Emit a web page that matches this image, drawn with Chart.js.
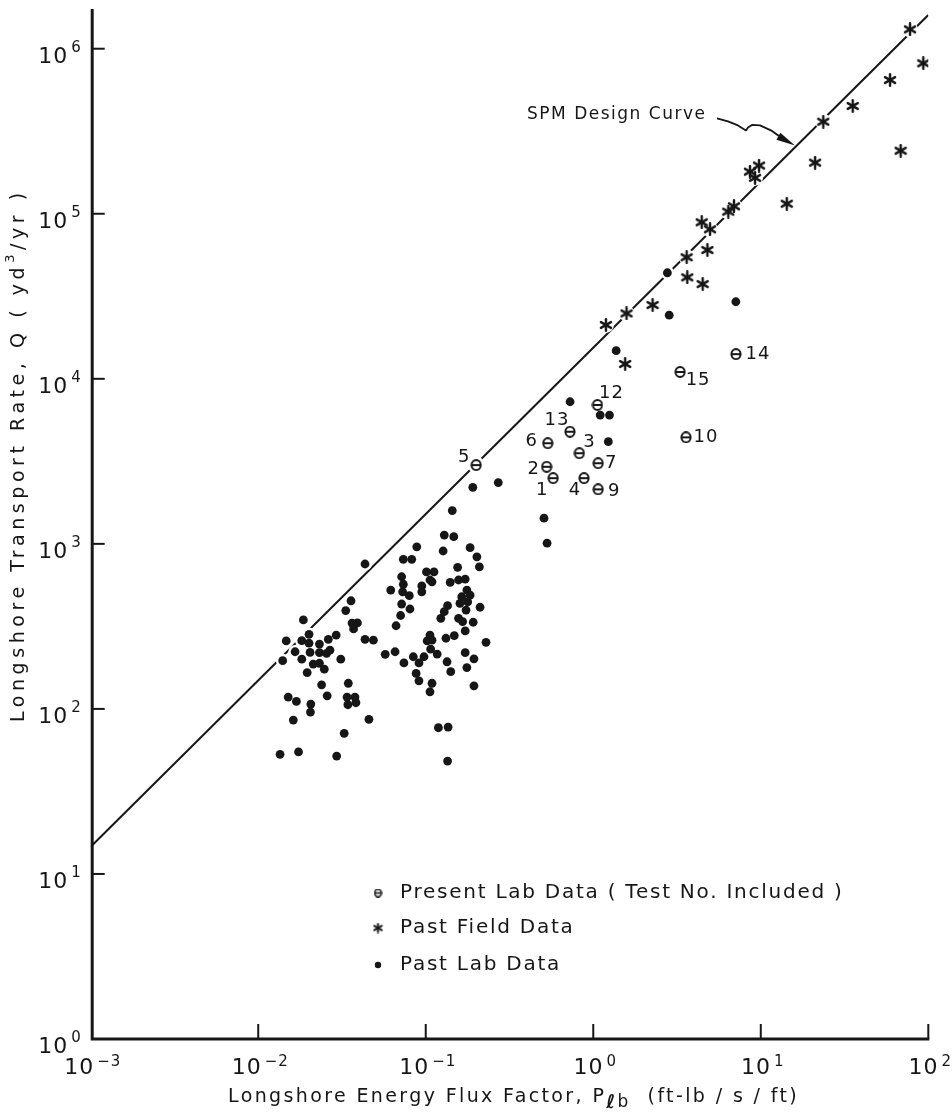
<!DOCTYPE html>
<html>
<head>
<meta charset="utf-8">
<script src="https://cdn.jsdelivr.net/npm/chart.js@4.4.0/dist/chart.umd.min.js"></script>
<style>
  html, body { margin: 0; padding: 0; background: #fff; }
  canvas { display: block; }
</style>
</head>
<body>
<canvas id="chart" width="952" height="1112"></canvas>
<script>
// ---- tick decades -------------------------------------------------------
const xTickExponents = [-3, -2, -1, 0, 1, 2];
const yTickExponents = [0, 1, 2, 3, 4, 5, 6];

// ---- present lab data (test number, P_lb, Q) ----------------------------
const presentLabTests = [5, 6, 13, 12, 3, 2, 1, 7, 4, 9, 15, 10, 14];
const presentLabP = [0.200, 0.535, 0.726, 1.06, 0.826, 0.527, 0.576, 1.07, 0.881, 1.07, 3.30, 3.58, 7.11];
const presentLabQ = [3000, 4070, 4780, 6940, 3540, 2930, 2500, 3080, 2500, 2140, 11000, 4420, 14100];

// ---- past field data ----------------------------------------------------
const pastFieldP = [77.8, 93.3, 59.1, 35.4, 23.6, 68.4, 21.1, 8.62, 9.76, 9.24, 14.3, 6.40,
                    6.92, 4.44, 4.98, 4.80, 3.61, 3.64, 4.50, 2.26, 1.58, 1.19, 1.55];
const pastFieldQ = [1.31e6, 8.16e5, 6.46e5, 4.50e5, 3.61e5, 2.41e5, 2.04e5, 1.80e5, 1.96e5, 1.65e5, 1.15e5, 1.03e5,
                    1.11e5, 8.88e4, 8.05e4, 6.03e4, 5.45e4, 4.12e4, 3.75e4, 2.80e4, 2.49e4, 2.12e4, 1.23e4];

// ---- past lab data ------------------------------------------------------
const pastLabP = [
  0.0186, 0.0147, 0.0201, 0.0182, 0.0201, 0.0232, 0.0262, 0.0292, 0.0166, 0.0204,
  0.0232, 0.0268, 0.0256, 0.0140, 0.0182, 0.0213, 0.0232, 0.0248, 0.0196, 0.0239,
  0.0258, 0.0151, 0.0169, 0.0206, 0.0205, 0.0162, 0.0135, 0.0174, 0.0294, 0.0311,
  0.0326, 0.0358, 0.0333, 0.0363, 0.0391, 0.0371, 0.0434, 0.0487, 0.0345, 0.0339,
  0.0378, 0.0343, 0.0383, 0.0458, 0.0434, 0.0884, 0.0735, 0.0825, 0.129, 0.147,
  0.127, 0.184, 0.202, 0.155, 0.209, 0.0718, 0.101, 0.112, 0.106, 0.140,
  0.157, 0.172, 0.0618, 0.0735, 0.0947, 0.109, 0.0728, 0.0798, 0.0947, 0.176,
  0.164, 0.184, 0.160, 0.178, 0.174, 0.211, 0.0718, 0.0805, 0.135, 0.129,
  0.123, 0.0708, 0.0665, 0.157, 0.166, 0.192, 0.172, 0.106, 0.109, 0.102,
  0.132, 0.148, 0.107, 0.117, 0.229, 0.0573, 0.0656, 0.0741, 0.0843, 0.0911,
  0.0976, 0.134, 0.141, 0.172, 0.194, 0.176, 0.0876, 0.0911, 0.109, 0.106,
  0.194, 0.119, 0.136, 0.135, 0.191, 0.271, 0.144, 0.508, 0.530, 0.727,
  1.10, 1.25, 1.23, 1.37, 2.77, 2.84, 7.10
];
const pastLabQ = [
  346, 258, 283, 259, 250, 247, 264, 280, 222, 220,
  219, 227, 217, 196, 200, 187, 189, 174, 166, 140,
  120, 118, 111, 107, 95.7, 85.6, 53.1, 54.9, 51.8, 200,
  71.1, 452, 394, 331, 332, 305, 264, 261, 143, 118,
  118, 106, 109, 86.5, 755, 960, 806, 806, 1130, 1105,
  905, 948, 835, 721, 726, 632, 676, 676, 604, 584,
  604, 612, 525, 569, 556, 589, 512, 485, 512, 525,
  478, 489, 436, 445, 397, 413, 432, 403, 422, 388,
  354, 368, 319, 354, 338, 335, 297, 280, 261, 258,
  268, 278, 230, 215, 253, 214, 222, 190, 207, 190,
  207, 193, 168, 219, 201, 178, 164, 148, 143, 127,
  138, 76.9, 77.6, 48.3, 2200, 2350, 1590, 1430, 1010, 7260,
  6030, 6030, 4160, 14800, 43900, 24300, 29300
];

// ---- SPM design curve end points ----------------------------------------
const designCurveP = [0.001, 100];
const designCurveQ = [14.6, 1.6e6];

// ---- look ---------------------------------------------------------------
const INK = '#161616';
const FONT = '"DejaVu Sans", "Liberation Sans", sans-serif';

function thetaMarker(size, width) {
  const c = document.createElement('canvas');
  c.width = c.height = size;
  const g = c.getContext('2d');
  const r = size / 2;
  g.strokeStyle = INK;
  g.fillStyle = '#fff';
  g.lineWidth = width;
  g.beginPath();
  g.ellipse(r, r, r - width / 2 - 0.4, r - width / 2, 0, 0, Math.PI * 2);
  g.fill();
  g.stroke();
  g.beginPath();
  g.moveTo(1.5, r);
  g.lineTo(size - 1.5, r);
  g.stroke();
  return c;
}

function starMarker(size, width) {
  const c = document.createElement('canvas');
  c.width = c.height = size;
  const g = c.getContext('2d');
  const r = size / 2, arm = r - 1.2;
  g.strokeStyle = INK;
  g.lineWidth = width;
  g.lineCap = 'round';
  for (let k = 0; k < 3; k++) {
    const a = Math.PI / 2 + k * Math.PI / 3;
    g.beginPath();
    g.moveTo(r - arm * Math.cos(a), r - arm * Math.sin(a));
    g.lineTo(r + arm * Math.cos(a), r + arm * Math.sin(a));
    g.stroke();
  }
  return c;
}

const thetaImg = thetaMarker(12, 2);
const starImg = starMarker(14, 2.4);
const thetaLegend = thetaMarker(9, 1.6);
const starLegend = starMarker(11, 1.9);

const pairs = (xs, ys) => xs.map((x, i) => ({ x, y: ys[i] }));

// label placement of the test numbers around their symbols (dx, dy)
const testLabelPlacement = {
  5: [-12, -8], 6: [-16, -2], 13: [-13, -11], 12: [14, -12], 3: [10, -11],
  2: [-13, 3], 1: [-11, 12], 7: [13, 0], 4: [-9, 12], 9: [16, 2],
  15: [18, 8], 10: [20, 0], 14: [22, 0]
};

function setSpacing(ctx, px) {
  ctx.letterSpacing = px.toFixed(2) + 'px';
}

// draws consecutive text runs so the whole string spans `width`
function drawRuns(ctx, runs, x, y, width) {
  let natural = 0, count = 0;
  ctx.letterSpacing = '0px';
  runs.forEach(r => {
    ctx.font = r.font;
    natural += ctx.measureText(r.text).width;
    count += [...r.text].length;
  });
  const sp = width ? (width - natural) / (count - 1) : 0;
  let cx = x;
  runs.forEach(r => {
    ctx.font = r.font;
    setSpacing(ctx, sp);
    ctx.fillText(r.text, cx, y + (r.dy || 0));
    cx += ctx.measureText(r.text).width;
  });
  ctx.letterSpacing = '0px';
}

function powerWidth(ctx, exp) {
  const sup = exp < 0 ? '\u2212' + (-exp) : String(exp);
  ctx.letterSpacing = '1px';
  ctx.font = `22px ${FONT}`;
  const wb = ctx.measureText('10').width;
  ctx.font = `15px ${FONT}`;
  const ws = ctx.measureText(sup).width;
  return { sup, wb, ws, gap: 3 };
}

function drawPower(ctx, exp, x, y, supRise) {
  const m = powerWidth(ctx, exp);
  ctx.textAlign = 'left';
  ctx.textBaseline = 'alphabetic';
  ctx.letterSpacing = '1px';
  ctx.font = `22px ${FONT}`;
  ctx.fillText('10', x, y);
  ctx.font = `15px ${FONT}`;
  ctx.fillText(m.sup, x + m.wb + m.gap, y - supRise);
  ctx.letterSpacing = '0px';
}

const decor = {
  id: 'decor',
  afterDatasetDraw(chart, args) {
    if (chart.data.datasets[args.index].type !== 'line') return;
    // white clearance so the design curve breaks around symbols it meets
    const ctx = chart.ctx;
    ctx.save();
    ctx.fillStyle = '#fff';
    [[0, 8.5], [1, 8], [2, 6.8]].forEach(([di, r]) => {
      chart.getDatasetMeta(di).data.forEach(pt => {
        ctx.beginPath();
        ctx.arc(pt.x, pt.y, r, 0, Math.PI * 2);
        ctx.fill();
      });
    });
    ctx.restore();
  },
  afterDraw(chart) {
    const ctx = chart.ctx;
    const { left: L, right: R, top: T, bottom: B } = chart.chartArea;
    const xs = chart.scales.x, ys = chart.scales.y;
    ctx.save();
    ctx.fillStyle = INK;
    ctx.strokeStyle = INK;

    // axes
    ctx.lineWidth = 3;
    ctx.lineCap = 'butt';
    ctx.beginPath();
    ctx.moveTo(L + 1.5, T);
    ctx.lineTo(L + 1.5, B);
    ctx.lineTo(R + 1, B);
    ctx.stroke();

    // inward ticks
    ctx.lineWidth = 2;
    xTickExponents.forEach(e => {
      if (e === xTickExponents[0]) return;
      const px = xs.getPixelForValue(10 ** e);
      ctx.beginPath();
      ctx.moveTo(px, B);
      ctx.lineTo(px, B - 15);
      ctx.stroke();
    });
    yTickExponents.forEach(e => {
      if (e === yTickExponents[0]) return;
      const py = ys.getPixelForValue(10 ** e);
      ctx.beginPath();
      ctx.moveTo(L + 1.5, py);
      ctx.lineTo(L + 14, py);
      ctx.stroke();
    });

    // tick labels
    yTickExponents.forEach(e => {
      const py = ys.getPixelForValue(10 ** e);
      const m = powerWidth(ctx, e);
      const w = m.wb + m.gap + m.ws;
      drawPower(ctx, e, L - 9 - w, py + 14, 11);
    });
    xTickExponents.forEach(e => {
      const px = xs.getPixelForValue(10 ** e);
      const m = powerWidth(ctx, e);
      const w = m.wb + m.gap + m.ws;
      drawPower(ctx, e, px - w / 2 + 2, B + 35, 8);
    });

    // axis titles
    ctx.textAlign = 'left';
    ctx.textBaseline = 'middle';
    drawRuns(ctx, [
      { text: 'Longshore Energy Flux Factor, P', font: `19px ${FONT}` },
      { text: '\u2113', font: `italic bold 19px ${FONT}`, dy: 6 },
      { text: 'b', font: `17px ${FONT}`, dy: 6 },
      { text: '  (ft-lb / s / ft)', font: `19px ${FONT}` }
    ], 228, 1097, 569);

    ctx.save();
    ctx.translate(19, 722);
    ctx.rotate(-Math.PI / 2);
    drawRuns(ctx, [
      { text: 'Longshore Transport Rate, Q ( yd', font: `19px ${FONT}` },
      { text: '3', font: `13px ${FONT}`, dy: -8 },
      { text: '/yr )', font: `19px ${FONT}` }
    ], 0, 0, 529);
    ctx.restore();

    // test numbers beside the present lab symbols
    ctx.font = `18px ${FONT}`;
    ctx.textBaseline = 'middle';
    ctx.textAlign = 'center';
    ctx.letterSpacing = '1px';
    chart.getDatasetMeta(0).data.forEach((pt, i) => {
      const n = presentLabTests[i];
      const [dx, dy] = testLabelPlacement[n];
      ctx.fillText(String(n), pt.x + dx, pt.y + dy);
    });
    ctx.letterSpacing = '0px';

    // SPM design curve annotation with its arrow
    const line = chart.getDatasetMeta(3).data;
    const tipX = xs.getPixelForValue(16);
    const t = (tipX - line[0].x) / (line[1].x - line[0].x);
    const tipY = line[0].y + t * (line[1].y - line[0].y) - 2;
    ctx.textAlign = 'left';
    ctx.textBaseline = 'middle';
    drawRuns(ctx, [{ text: 'SPM Design Curve', font: `17px ${FONT}` }], tipX - 268, tipY - 31, 178);
    const path = [[-78, -27], [-67, -24], [-57, -20], [-49, -15], [-47, -18], [-43, -20.5],
                  [-35, -20], [-23, -14.5], [-16, -9.5]];
    ctx.lineWidth = 1.8;
    ctx.lineJoin = 'round';
    ctx.beginPath();
    path.forEach(([dx, dy], k) => k ? ctx.lineTo(tipX + dx, tipY + dy) : ctx.moveTo(tipX + dx, tipY + dy));
    ctx.stroke();
    const ang = Math.atan2(10, 18);
    ctx.beginPath();
    ctx.moveTo(tipX, tipY);
    ctx.lineTo(tipX - 19 * Math.cos(ang) - 4 * Math.sin(ang), tipY - 19 * Math.sin(ang) + 4 * Math.cos(ang));
    ctx.lineTo(tipX - 19 * Math.cos(ang) + 4 * Math.sin(ang), tipY - 19 * Math.sin(ang) - 4 * Math.cos(ang));
    ctx.closePath();
    ctx.fill();

    // legend
    const legendRows = [
      { img: thetaLegend, text: 'Present Lab Data ( Test No. Included )', y: 893 },
      { img: starLegend, text: 'Past Field Data', y: 928 },
      { img: null, text: 'Past Lab Data', y: 965 }
    ];
    ctx.textAlign = 'left';
    ctx.textBaseline = 'middle';
    ctx.font = `20px ${FONT}`;
    ctx.letterSpacing = '0px';
    const natural = ctx.measureText(legendRows[0].text).width;
    const sp = (442 - natural) / ([...legendRows[0].text].length - 1);
    legendRows.forEach(row => {
      if (row.img) {
        ctx.drawImage(row.img, 378 - row.img.width / 2, row.y - row.img.height / 2);
      } else {
        ctx.beginPath();
        ctx.arc(378, row.y, 3.2, 0, Math.PI * 2);
        ctx.fill();
      }
      ctx.font = `20px ${FONT}`;
      setSpacing(ctx, sp);
      ctx.fillText(row.text, 400, row.y);
    });
    ctx.letterSpacing = '0px';
    ctx.restore();
  }
};

new Chart(document.getElementById('chart'), {
  type: 'scatter',
  data: {
    datasets: [
      {
        label: 'Present Lab Data (Test No. Included)',
        data: pairs(presentLabP, presentLabQ),
        pointStyle: thetaImg,
        pointRadius: 6,
        order: 0
      },
      {
        label: 'Past Field Data',
        data: pairs(pastFieldP, pastFieldQ),
        pointStyle: starImg,
        pointRadius: 6,
        order: 1
      },
      {
        label: 'Past Lab Data',
        data: pairs(pastLabP, pastLabQ),
        pointStyle: 'circle',
        pointRadius: 4.4,
        backgroundColor: INK,
        borderWidth: 0,
        order: 2
      },
      {
        label: 'SPM Design Curve',
        type: 'line',
        data: pairs(designCurveP, designCurveQ),
        borderColor: INK,
        borderWidth: 2,
        pointRadius: 0,
        fill: false,
        tension: 0,
        order: 3
      }
    ]
  },
  options: {
    responsive: false,
    animation: false,
    events: [],
    layout: { padding: { left: 0, right: 23.7, top: 9, bottom: 0 } },
    plugins: { legend: { display: false }, tooltip: { enabled: false } },
    scales: {
      x: {
        type: 'logarithmic',
        min: 1e-3,
        max: 1e2,
        grid: { display: false },
        border: { display: false },
        ticks: { display: false },
        afterBuildTicks(s) { s.ticks = xTickExponents.map(e => ({ value: 10 ** e })); },
        afterFit(s) { s.height = 73; }
      },
      y: {
        type: 'logarithmic',
        min: 1,
        max: 10 ** 6.2406,
        grid: { display: false },
        border: { display: false },
        ticks: { display: false },
        afterBuildTicks(s) { s.ticks = yTickExponents.map(e => ({ value: 10 ** e })); },
        afterFit(s) { s.width = 90.7; }
      }
    }
  },
  plugins: [decor]
});
</script>
</body>
</html>
